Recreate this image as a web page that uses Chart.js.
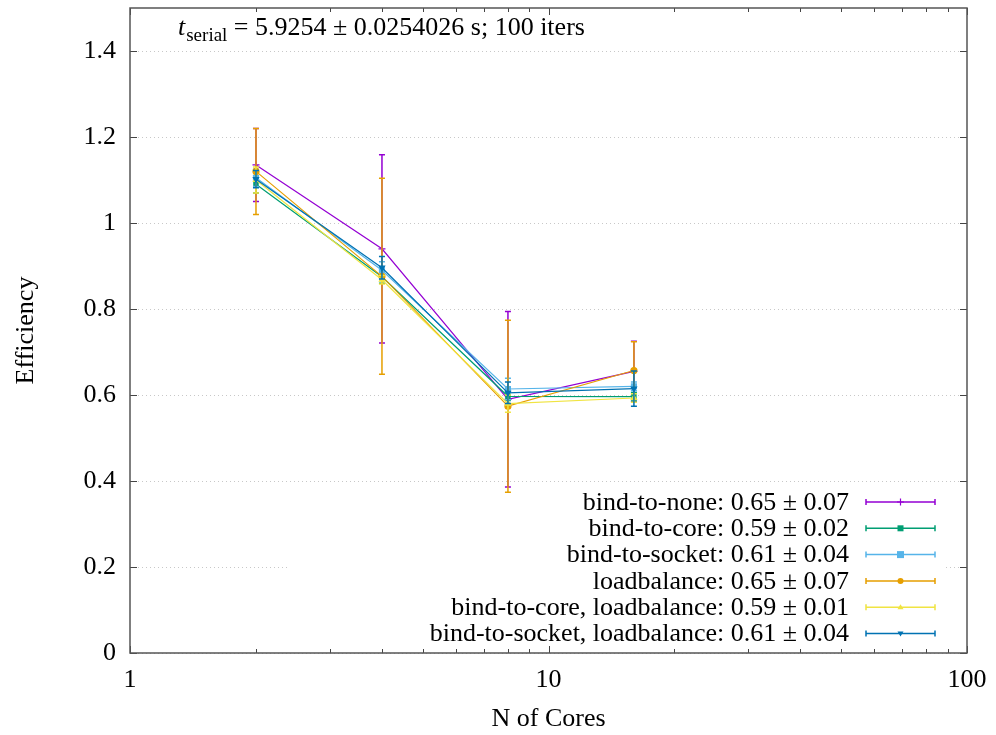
<!DOCTYPE html>
<html>
<head>
<meta charset="utf-8">
<script src="https://cdn.jsdelivr.net/npm/chart.js@4/dist/chart.umd.min.js"></script>
<style>
  html, body { margin: 0; padding: 0; background: #fff; }
</style>
</head>
<body>
<canvas id="chart" width="996" height="735"></canvas>
<script>
// number of cores on the x axis
const cores = [2, 4, 8, 16];

// efficiency per configuration, with its error
const bindNone = [1.135, 0.940, 0.590, 0.655];
const bindNoneErr = [0.085, 0.219, 0.204, 0.070];
const bindCore = [1.090, 0.875, 0.597, 0.596];
const bindCoreErr = [0.020, 0.015, 0.010, 0.010];
const bindSocket = [1.105, 0.890, 0.614, 0.620];
const bindSocketErr = [0.020, 0.020, 0.025, 0.010];
const loadBalance = [1.120, 0.876, 0.574, 0.657];
const loadBalanceErr = [0.100, 0.228, 0.200, 0.067];
const coreLoadBalance = [1.100, 0.868, 0.580, 0.593];
const coreLoadBalanceErr = [0.030, 0.010, 0.020, 0.010];
const socketLoadBalance = [1.102, 0.896, 0.605, 0.615];
const socketLoadBalanceErr = [0.020, 0.026, 0.025, 0.041];

const legendLabels = [
  'bind-to-none: 0.65 \u00b1 0.07',
  'bind-to-core: 0.59 \u00b1 0.02',
  'bind-to-socket: 0.61 \u00b1 0.04',
  'loadbalance: 0.65 \u00b1 0.07',
  'bind-to-core, loadbalance: 0.59 \u00b1 0.01',
  'bind-to-socket, loadbalance: 0.61 \u00b1 0.04'
];

const xTicks = [1, 10, 100];
const xMinorTicks = [2, 3, 4, 5, 6, 7, 8, 9, 20, 30, 40, 50, 60, 70, 80, 90];
const yTicks = [0, 0.2, 0.4, 0.6, 0.8, 1.0, 1.2, 1.4];

const FONT = 'Liberation Serif';
const FSIZE = 26;

const series = [
  { data: bindNone, err: bindNoneErr, color: '#9400d3', style: 'cross', radius: 3.5, rot: 0 },
  { data: bindCore, err: bindCoreErr, color: '#009e73', style: 'rect', radius: 3, rot: 0 },
  { data: bindSocket, err: bindSocketErr, color: '#56b4e9', style: 'rect', radius: 3.5, rot: 0 },
  { data: loadBalance, err: loadBalanceErr, color: '#e69f00', style: 'circle', radius: 3, rot: 0 },
  { data: coreLoadBalance, err: coreLoadBalanceErr, color: '#f0e442', style: 'triangle', radius: 3, rot: 0 },
  { data: socketLoadBalance, err: socketLoadBalanceErr, color: '#0072b2', style: 'triangle', radius: 3, rot: 180 }
];

const datasets = series.map((s, i) => ({
  label: legendLabels[i],
  data: s.data.map((v, j) => ({ x: cores[j], y: v })),
  borderColor: s.color,
  backgroundColor: s.color,
  borderWidth: 1.2,
  pointStyle: s.style,
  pointRadius: s.radius,
  pointRotation: s.rot,
  pointBorderWidth: 1.2,
  tension: 0,
  order: series.length - i
}));

function capBar(ctx, x, y1, y2, color) {
  ctx.strokeStyle = color;
  ctx.lineWidth = 1.5;
  ctx.beginPath();
  ctx.moveTo(x, y1); ctx.lineTo(x, y2);
  ctx.moveTo(x - 3, y1); ctx.lineTo(x + 3, y1);
  ctx.moveTo(x - 3, y2); ctx.lineTo(x + 3, y2);
  ctx.stroke();
}

function marker(ctx, s, x, y) {
  ctx.fillStyle = s.color;
  ctx.strokeStyle = s.color;
  ctx.lineWidth = 1.2;
  const r = s.radius;
  ctx.beginPath();
  if (s.style === 'cross') {
    ctx.moveTo(x - r, y); ctx.lineTo(x + r, y);
    ctx.moveTo(x, y - r); ctx.lineTo(x, y + r);
    ctx.stroke();
  } else if (s.style === 'rect') {
    ctx.fillRect(x - r, y - r, 2 * r, 2 * r);
  } else if (s.style === 'circle') {
    ctx.arc(x, y, r, 0, Math.PI * 2); ctx.fill();
  } else {
    const d = s.rot ? -1 : 1;
    ctx.moveTo(x, y - d * r); ctx.lineTo(x + r, y + d * r * 0.7); ctx.lineTo(x - r, y + d * r * 0.7);
    ctx.closePath(); ctx.fill();
  }
}

const gnuplotLook = {
  id: 'gnuplotLook',
  beforeDatasetsDraw(chart) {
    const { ctx, chartArea: a } = chart;
    // opaque key box
    ctx.save();
    ctx.fillStyle = '#fff';
    ctx.fillRect(a.left + 160, a.bottom - 161, a.right - a.left - 182, 159);
    ctx.restore();
  },
  afterDatasetDraw(chart, args) {
    const s = series[args.index];
    const { ctx } = chart;
    const xs = chart.scales.x, ys = chart.scales.y;
    ctx.save();
    cores.forEach((c, j) => {
      const px = xs.getPixelForValue(c);
      capBar(ctx, px, ys.getPixelForValue(s.data[j] + s.err[j]), ys.getPixelForValue(s.data[j] - s.err[j]), s.color);
    });
    ctx.restore();
  },
  afterDraw(chart) {
    const { ctx, chartArea: a } = chart;
    const xs = chart.scales.x, ys = chart.scales.y;
    ctx.save();
    // ticks pointing inward
    ctx.strokeStyle = '#444';
    ctx.lineWidth = 1;
    ctx.beginPath();
    xTicks.forEach(v => {
      const px = Math.round(xs.getPixelForValue(v)) + 0.5;
      ctx.moveTo(px, a.bottom); ctx.lineTo(px, a.bottom - 7);
      ctx.moveTo(px, a.top); ctx.lineTo(px, a.top + 7);
    });
    xMinorTicks.forEach(v => {
      const px = Math.round(xs.getPixelForValue(v)) + 0.5;
      ctx.moveTo(px, a.bottom); ctx.lineTo(px, a.bottom - 4);
      ctx.moveTo(px, a.top); ctx.lineTo(px, a.top + 4);
    });
    yTicks.forEach(v => {
      const py = Math.round(ys.getPixelForValue(v)) + 0.5;
      ctx.moveTo(a.left, py); ctx.lineTo(a.left + 7, py);
      ctx.moveTo(a.right, py); ctx.lineTo(a.right - 7, py);
    });
    ctx.stroke();
    // frame
    ctx.strokeStyle = '#555';
    ctx.lineWidth = 1.5;
    ctx.strokeRect(a.left, a.top, a.right - a.left, a.bottom - a.top);

    // key
    const keyRight = a.right - 118;
    const lineL = a.right - 101, lineR = a.right - 32;
    ctx.font = FSIZE + 'px "' + FONT + '"';
    ctx.textAlign = 'right';
    ctx.textBaseline = 'middle';
    series.forEach((s, i) => {
      const y = a.bottom - 151 + i * 26.3;
      ctx.fillStyle = '#000';
      ctx.fillText(legendLabels[i], keyRight, y + 1);
      ctx.strokeStyle = s.color;
      ctx.lineWidth = 1.5;
      ctx.beginPath();
      ctx.moveTo(lineL, y); ctx.lineTo(lineR, y);
      ctx.moveTo(lineL, y - 3); ctx.lineTo(lineL, y + 3);
      ctx.moveTo(lineR, y - 3); ctx.lineTo(lineR, y + 3);
      ctx.stroke();
      marker(ctx, s, (lineL + lineR) / 2, y);
    });

    // serial time annotation
    ctx.textAlign = 'left';
    ctx.textBaseline = 'alphabetic';
    ctx.fillStyle = '#000';
    let x = a.left + 48;
    const base = a.top + 27;
    ctx.font = 'italic ' + FSIZE + 'px "' + FONT + '"';
    ctx.fillText('t', x, base);
    x += ctx.measureText('t').width + 1;
    ctx.font = Math.round(FSIZE * 0.72) + 'px "' + FONT + '"';
    ctx.fillText('serial', x, base + 6);
    x += ctx.measureText('serial').width;
    ctx.font = FSIZE + 'px "' + FONT + '"';
    ctx.fillText(' = 5.9254 \u00b1 0.0254026 s; 100 iters', x, base);
    ctx.restore();
  }
};

new Chart(document.getElementById('chart'), {
  type: 'line',
  data: { datasets },
  plugins: [gnuplotLook],
  options: {
    responsive: false,
    animation: false,
    devicePixelRatio: 1,
    layout: { padding: { top: 8, right: 29, left: 0, bottom: 0 } },
    plugins: { legend: { display: false }, tooltip: { enabled: false } },
    scales: {
      x: {
        type: 'logarithmic',
        min: 1,
        max: 100,
        afterBuildTicks: scale => { scale.ticks = xTicks.map(v => ({ value: v })); },
        afterFit: scale => { scale.height = 82; scale.paddingLeft = 0; scale.paddingRight = 0; },
        grid: { display: false, drawTicks: false },
        border: { display: false },
        ticks: {
          color: '#000',
          font: { family: FONT, size: FSIZE },
          padding: 12,
          maxRotation: 0,
          callback: v => String(v)
        },
        title: {
          display: true,
          text: 'N of Cores',
          color: '#000',
          font: { family: FONT, size: FSIZE },
          padding: { top: 0, bottom: 0 }
        }
      },
      y: {
        min: 0,
        max: 1.5,
        afterBuildTicks: scale => { scale.ticks = yTicks.map(v => ({ value: v })); },
        afterFit: scale => { scale.width = 130; scale.paddingTop = 0; scale.paddingBottom = 0; },
        grid: {
          color: '#c8c8c8',
          lineWidth: 1,
          drawTicks: false
        },
        border: { display: false, dash: [1, 3] },
        ticks: {
          color: '#000',
          font: { family: FONT, size: FSIZE },
          padding: 14,
          callback: v => String(Math.round(v * 10) / 10)
        },
        title: {
          display: true,
          text: 'Efficiency',
          color: '#000',
          font: { family: FONT, size: FSIZE },
          padding: { top: 11, bottom: 0 }
        }
      }
    }
  }
});
</script>
</body>
</html>
